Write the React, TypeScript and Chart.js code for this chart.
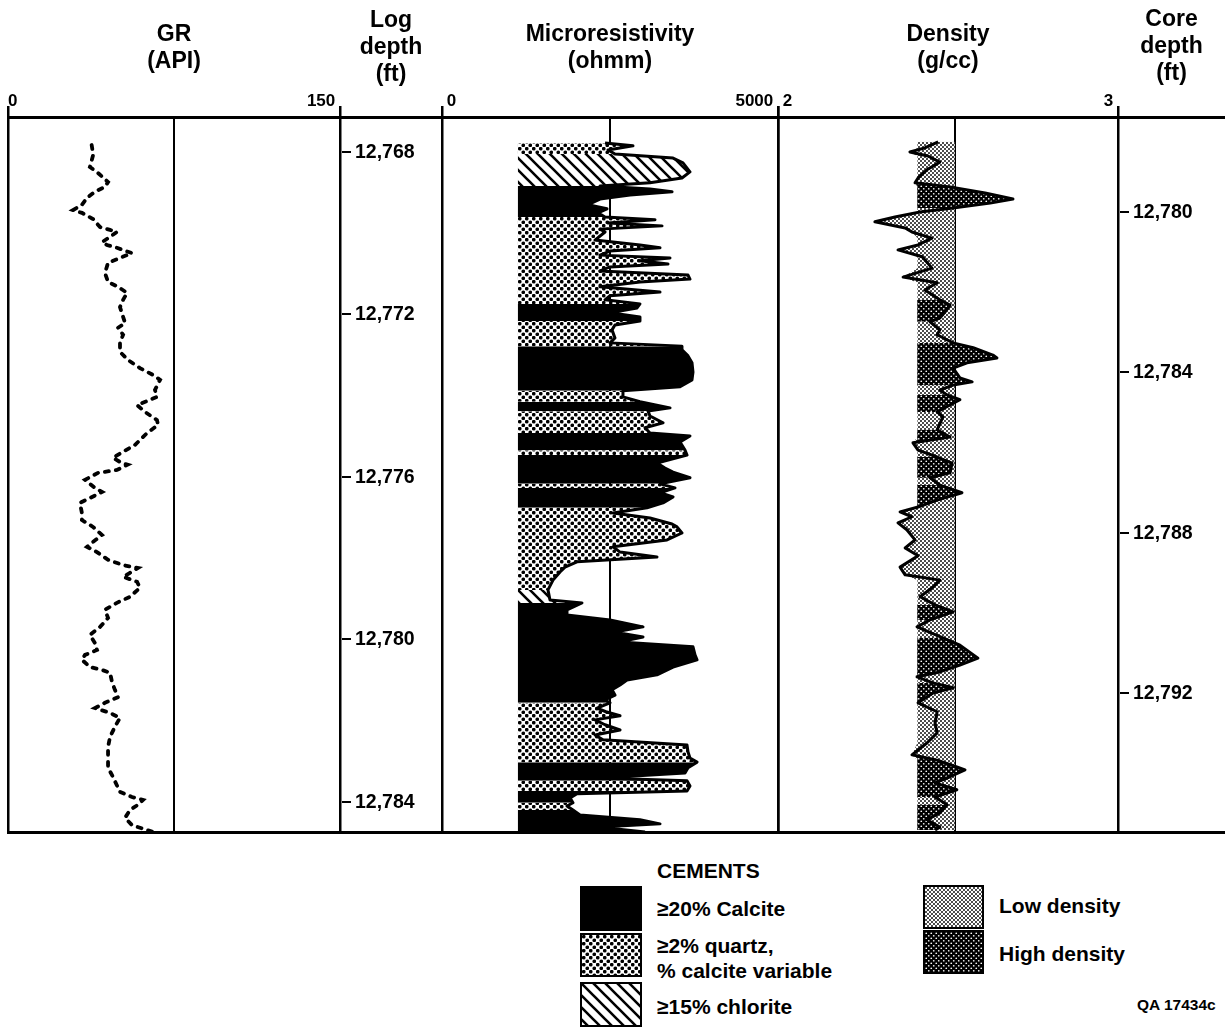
import React, { useEffect, useRef } from 'react';
import { Chart, registerables } from 'chart.js';

Chart.register(...registerables);

const FONT = '"Liberation Sans", Arial, Helvetica, sans-serif';

// ---------- depth scales ----------
const LOG_DEPTH_RANGE = [12767.14, 12784.74];
const CORE_DEPTH_RANGE = [12777.63, 12795.47];
const LOG_DEPTH_TICKS = [12768, 12772, 12776, 12780, 12784];
const CORE_DEPTH_TICKS = [12780, 12784, 12788, 12792];

// ---------- track scales ----------
const GR_RANGE = [0, 150];
const GR_GRID = 75;
const GR_TICK_LABELS = ['0', '150'];
const RES_RANGE = [0, 5000];
const RES_GRID = 2500;
const RES_TICK_LABELS = ['0', '5000'];
const RES_BASE = 1130;
const DEN_RANGE = [2, 3];
const DEN_BAND_RIGHT = 2.52;
const DEN_BAND_LEFT = 2.41;
const DEN_TICK_LABELS = ['2', '3'];

// ---------- GR (API) ----------
const GR_DEPTH = [
  12767.83, 12768.07, 12768.37, 12768.52, 12768.74, 12768.86, 12768.98, 12769.13, 12769.30, 12769.43,
  12769.50, 12769.65, 12769.85, 12769.92, 12769.97, 12770.09, 12770.22, 12770.29, 12770.36, 12770.49,
  12770.61, 12770.73, 12770.98, 12771.20, 12771.32, 12771.47, 12771.64, 12771.82, 12772.06, 12772.21,
  12772.33, 12772.50, 12772.70, 12772.92, 12773.12, 12773.32, 12773.49, 12773.61, 12773.86, 12774.03,
  12774.23, 12774.40, 12774.60, 12774.72, 12774.92, 12775.21, 12775.38, 12775.53, 12775.66, 12775.70,
  12775.83, 12775.90, 12776.07, 12776.27, 12776.37, 12776.52, 12776.64, 12776.89, 12777.06, 12777.23,
  12777.43, 12777.60, 12777.72, 12777.85, 12778.04, 12778.17, 12778.24, 12778.36, 12778.46, 12778.58,
  12778.73, 12778.95, 12779.10, 12779.27, 12779.47, 12779.69, 12779.89, 12780.09, 12780.26, 12780.38,
  12780.50, 12780.68, 12780.75, 12780.82, 12781.05, 12781.24, 12781.42, 12781.56, 12781.69, 12781.81,
  12781.93, 12782.15, 12782.40, 12782.65, 12782.89, 12783.16, 12783.34, 12783.75, 12783.88, 12783.95,
  12784.07, 12784.20, 12784.39, 12784.57, 12784.66, 12784.74,
];
const GR_API = [
  37.8, 38.5, 37.0, 40.7, 45.2, 43.8, 39.3, 35.7, 33.4, 29.4,
  33.4, 38.4, 41.6, 46.1, 49.2, 46.1, 42.5, 44.7, 49.2, 56.0,
  50.6, 45.2, 43.8, 45.2, 49.7, 53.8, 52.0, 50.6, 52.0, 52.9,
  49.7, 52.0, 50.6, 50.6, 54.2, 59.6, 65.5, 68.7, 66.4, 67.3,
  58.3, 61.9, 67.3, 67.8, 62.8, 57.4, 52.0, 47.4, 51.5, 54.0,
  49.2, 40.7, 34.8, 39.3, 42.5, 37.0, 32.5, 33.4, 33.4, 38.4,
  42.5, 38.4, 35.7, 40.2, 45.2, 52.0, 58.7, 55.1, 52.0, 58.3,
  59.6, 55.1, 49.2, 43.8, 45.2, 41.6, 37.0, 39.3, 40.2, 34.8,
  33.4, 37.0, 42.5, 46.1, 47.0, 48.3, 49.7, 43.8, 39.3, 46.1,
  50.6, 48.3, 46.1, 45.2, 45.2, 45.2, 47.0, 50.6, 56.0, 61.0,
  58.7, 55.1, 52.9, 56.0, 61.0, 65.5,
];

// ---------- Microresistivity (ohmm) ----------
const RES_DEPTH = [
  12767.78, 12767.85, 12767.95, 12768.05, 12768.15, 12768.27, 12768.49, 12768.64, 12768.76, 12768.84,
  12768.91, 12768.98, 12769.06, 12769.16, 12769.30, 12769.40, 12769.50, 12769.60, 12769.67, 12769.75,
  12769.82, 12769.90, 12769.97, 12770.17, 12770.29, 12770.36, 12770.44, 12770.54, 12770.61, 12770.68,
  12770.76, 12770.83, 12770.93, 12771.03, 12771.13, 12771.20, 12771.32, 12771.45, 12771.54, 12771.64,
  12771.74, 12771.84, 12771.96, 12772.06, 12772.16, 12772.26, 12772.38, 12772.58, 12772.70, 12772.78,
  12772.87, 12773.02, 12773.19, 12773.42, 12773.61, 12773.78, 12773.88, 12774.03, 12774.15, 12774.30,
  12774.38, 12774.50, 12774.67, 12774.79, 12774.92, 12774.99, 12775.14, 12775.34, 12775.46, 12775.66,
  12775.78, 12775.88, 12776.02, 12776.17, 12776.27, 12776.39, 12776.49, 12776.64, 12776.76, 12776.89,
  12777.01, 12777.16, 12777.23, 12777.38, 12777.55, 12777.72, 12777.85, 12777.97, 12778.09, 12778.22,
  12778.34, 12778.54, 12778.78, 12779.03, 12779.10, 12779.27, 12779.40, 12779.52, 12779.69, 12779.82,
  12779.94, 12780.06, 12780.18, 12780.38, 12780.50, 12780.68, 12780.87, 12781.00, 12781.12, 12781.24,
  12781.37, 12781.49, 12781.56, 12781.69, 12781.78, 12781.88, 12781.98, 12782.10, 12782.23, 12782.35,
  12782.47, 12782.60, 12782.77, 12782.92, 12783.02, 12783.16, 12783.29, 12783.41, 12783.48, 12783.61,
  12783.73, 12783.80, 12783.90, 12784.02, 12784.10, 12784.20, 12784.32, 12784.44, 12784.54, 12784.62,
  12784.74,
];
const RES_OHMM = [
  2426, 2842, 2470, 2574, 3438, 3586, 3690, 3571, 3095, 2351,
  3095, 3423, 2798, 2351, 2173, 2455, 2321, 2426, 3170, 2470,
  3274, 2351, 2426, 2277, 2946, 3244, 2500, 2351, 3393, 2946,
  3363, 2500, 2351, 3661, 3690, 2946, 2351, 3244, 2500, 2426,
  2946, 2902, 2500, 2946, 2946, 2574, 2530, 2574, 2500, 3571,
  3571, 3661, 3720, 3735, 3720, 3542, 2693, 2693, 2946, 3393,
  3066, 3095, 3289, 3021, 3095, 3690, 3542, 3616, 3646, 3199,
  3318, 3438, 3690, 3244, 3467, 3244, 3438, 3289, 3051, 2545,
  3095, 3423, 3497, 3571, 3348, 2545, 2649, 3199, 2009, 1830,
  1756, 1652, 1577, 1607, 2083, 1860, 1860, 2500, 2991, 2574,
  2991, 2649, 3735, 3765, 3795, 3438, 3199, 2753, 2649, 2530,
  2574, 2426, 2500, 2307, 2440, 2649, 2277, 2426, 2649, 2277,
  2396, 3646, 3661, 3690, 3795, 3661, 3616, 2351, 3646, 3690,
  3646, 2009, 1905, 1949, 1860, 1949, 2054, 2946, 3244, 2351,
  3021,
];

// cement intervals: zone i spans CEMENT_BOUNDS[i] .. CEMENT_BOUNDS[i+1]
const CEMENT_BOUNDS = [
  12767.78, 12768.05, 12768.84, 12769.60, 12771.74, 12772.16, 12772.78, 12773.88, 12774.15, 12774.38,
  12774.92, 12775.34, 12775.46, 12776.17, 12776.27, 12776.76, 12778.78, 12779.10, 12781.56, 12783.02,
  12783.48, 12783.73, 12784.02, 12784.20, 12784.74,
];
const CEMENT_TYPE = [
  'quartz', 'chlorite', 'calcite', 'quartz', 'calcite', 'quartz', 'calcite', 'quartz', 'calcite', 'quartz',
  'calcite', 'quartz', 'calcite', 'quartz', 'calcite', 'quartz', 'chlorite', 'calcite', 'quartz', 'calcite',
  'quartz', 'calcite', 'quartz', 'calcite',
];

// ---------- Density (g/cc) ----------
const DEN_DEPTH = [
  12767.75, 12767.90, 12768.00, 12768.10, 12768.25, 12768.44, 12768.64, 12768.76, 12768.86, 12769.01,
  12769.16, 12769.26, 12769.38, 12769.48, 12769.60, 12769.72, 12769.87, 12769.97, 12770.12, 12770.29,
  12770.41, 12770.58, 12770.86, 12771.08, 12771.22, 12771.40, 12771.64, 12771.77, 12771.94, 12772.09,
  12772.18, 12772.38, 12772.50, 12772.70, 12772.82, 12773.00, 12773.07, 12773.19, 12773.32, 12773.56,
  12773.66, 12773.74, 12773.86, 12773.98, 12774.10, 12774.23, 12774.40, 12774.52, 12774.84, 12775.02,
  12775.16, 12775.34, 12775.51, 12775.66, 12775.90, 12776.02, 12776.20, 12776.39, 12776.57, 12776.74,
  12776.86, 12776.98, 12777.13, 12777.30, 12777.55, 12777.75, 12777.94, 12778.22, 12778.41, 12778.54,
  12778.71, 12778.95, 12779.15, 12779.32, 12779.52, 12779.69, 12779.96, 12780.14, 12780.46, 12780.63,
  12780.80, 12780.92, 12781.07, 12781.19, 12781.32, 12781.56, 12781.78, 12782.06, 12782.30, 12782.55,
  12782.84, 12782.97, 12783.14, 12783.21, 12783.38, 12783.53, 12783.70, 12783.88, 12784.07, 12784.27,
  12784.44, 12784.62, 12784.69,
];
const DEN_GCC = [
  2.471, 2.432, 2.388, 2.441, 2.476, 2.438, 2.412, 2.403, 2.506, 2.609,
  2.691, 2.624, 2.515, 2.418, 2.344, 2.285, 2.374, 2.394, 2.453, 2.412,
  2.353, 2.424, 2.453, 2.368, 2.468, 2.432, 2.476, 2.506, 2.491, 2.476,
  2.447, 2.476, 2.468, 2.515, 2.574, 2.632, 2.644, 2.556, 2.515, 2.535,
  2.571, 2.515, 2.476, 2.497, 2.535, 2.506, 2.468, 2.485, 2.468, 2.506,
  2.397, 2.412, 2.468, 2.512, 2.506, 2.447, 2.476, 2.541, 2.468, 2.412,
  2.359, 2.394, 2.353, 2.379, 2.403, 2.374, 2.412, 2.359, 2.374, 2.476,
  2.456, 2.418, 2.462, 2.515, 2.447, 2.409, 2.485, 2.535, 2.588, 2.535,
  2.476, 2.409, 2.456, 2.515, 2.456, 2.412, 2.468, 2.462, 2.468, 2.438,
  2.394, 2.468, 2.526, 2.550, 2.506, 2.462, 2.526, 2.462, 2.497, 2.476,
  2.438, 2.476, 2.462,
];
const DEN_HIGH_TOP = [12768.76, 12771.64, 12772.58, 12773.96, 12774.72, 12775.38, 12776.12, 12778.98, 12779.72, 12780.95, 12782.84, 12784.07];
const DEN_HIGH_BASE = [12769.45, 12772.23, 12773.76, 12774.40, 12775.16, 12776.02, 12776.74, 12779.67, 12780.92, 12781.56, 12783.95, 12784.69];

// ---------- patterns ----------
function makePattern(kind: string): any {
  if (kind === 'calcite') return '#000';
  const c = document.createElement('canvas');
  const g = c.getContext('2d') as CanvasRenderingContext2D;
  const dot = (x: number, y: number, r: number) => {
    g.beginPath();
    g.arc(x, y, r, 0, Math.PI * 2);
    g.fill();
  };
  if (kind === 'quartz') {
    c.width = 7; c.height = 7;
    g.fillStyle = '#fff'; g.fillRect(0, 0, 7, 7);
    g.fillStyle = '#000';
    dot(1.75, 1.75, 1.85); dot(5.25, 5.25, 1.85);
    dot(-1.75, 8.75, 1.85); dot(8.75, -1.75, 1.85);
  } else if (kind === 'chlorite') {
    c.width = 12; c.height = 12;
    g.fillStyle = '#fff'; g.fillRect(0, 0, 12, 12);
    g.strokeStyle = '#000'; g.lineWidth = 2.6;
    g.beginPath();
    for (let k = -1; k <= 1; k++) {
      g.moveTo(-2, -2 + 12 * k);
      g.lineTo(14, 14 + 12 * k);
    }
    g.stroke();
  } else if (kind === 'low') {
    c.width = 4; c.height = 4;
    g.fillStyle = '#fff'; g.fillRect(0, 0, 4, 4);
    g.fillStyle = '#000';
    dot(1, 1, 0.95); dot(3, 3, 0.95);
  } else if (kind === 'high') {
    c.width = 5; c.height = 5;
    g.fillStyle = '#000'; g.fillRect(0, 0, 5, 5);
    g.fillStyle = '#fff';
    dot(1.25, 1.25, 0.85); dot(3.75, 3.75, 0.85);
  }
  return g.createPattern(c, 'repeat');
}

// ---------- depth-axis labels drawn inside the depth tracks ----------
const depthAxesPlugin = {
  id: 'depthAxes',
  afterDraw(chart: any) {
    const ctx = chart.ctx as CanvasRenderingContext2D;
    const axes = [
      { y: 'y', x: 'xdepth', ticks: LOG_DEPTH_TICKS },
      { y: 'ycore', x: 'xcore', ticks: CORE_DEPTH_TICKS },
    ];
    ctx.save();
    ctx.strokeStyle = '#000';
    ctx.fillStyle = '#000';
    ctx.lineWidth = 2;
    ctx.font = `bold 19.5px ${FONT}`;
    ctx.textAlign = 'left';
    ctx.textBaseline = 'middle';
    for (const a of axes) {
      const ys = chart.scales[a.y];
      const x0 = chart.scales[a.x].left;
      for (const t of a.ticks) {
        const py = Math.round(ys.getPixelForValue(t));
        ctx.beginPath();
        ctx.moveTo(x0 + 2, py);
        ctx.lineTo(x0 + 11, py);
        ctx.stroke();
        ctx.fillText(t.toLocaleString('en-US'), x0 + 15, py + 1);
      }
    }
    ctx.restore();
  },
};

const TITLE_FONT = { family: FONT, size: 23, weight: 'bold' as const, lineHeight: '27px' };
const TICK_FONT = { family: FONT, size: 17, weight: 'bold' as const };

function trackAxis(
  range: number[], grid: number, labels: string[], title: string[],
  stackWeight: number, weight: number, padTop: number, lead: string
) {
  return {
    type: 'linear' as const,
    axis: 'x' as const,
    position: 'top' as const,
    stack: 'tracks',
    stackWeight,
    weight,
    min: range[0],
    max: range[1],
    afterBuildTicks: (s: any) => {
      s.ticks = [range[0], grid, range[1]].map((v) => ({ value: v }));
    },
    afterFit: (s: any) => { s.height = 117; },
    ticks: {
      align: 'inner' as const,
      padding: -6,
      maxRotation: 0,
      autoSkip: false,
      color: '#000',
      font: TICK_FONT,
      callback: (_v: any, i: number, ticks: any[]) =>
        i === 0 ? lead + labels[0] : i === ticks.length - 1 ? labels[1] + ' ' : '',
    },
    grid: {
      color: '#000',
      lineWidth: (c: any) => (c.tick && c.tick.value === grid ? 2 : 2.5),
      tickLength: 11,
      tickWidth: 2.5,
      tickColor: (c: any) => (c.tick && c.tick.value === grid ? 'rgba(0,0,0,0)' : '#000'),
    },
    border: { display: true, color: '#000', width: 3 },
    title: { display: true, text: title, color: '#000', font: TITLE_FONT, padding: { top: padTop, bottom: 0 } },
  };
}

function blankAxis(title: string[], stackWeight: number, weight: number, padTop: number) {
  return {
    type: 'linear' as const,
    axis: 'x' as const,
    position: 'top' as const,
    stack: 'tracks',
    stackWeight,
    weight,
    min: 0,
    max: 1,
    afterFit: (s: any) => { s.height = 117; },
    ticks: { display: false },
    grid: { display: false, drawTicks: false },
    border: { display: true, color: '#000', width: 3 },
    title: { display: true, text: title, color: '#000', font: TITLE_FONT, padding: { top: padTop, bottom: 0 } },
  };
}

function Swatch({ kind, left, top, w, h }: { kind: string; left: number; top: number; w: number; h: number }) {
  const ref = useRef<HTMLCanvasElement>(null);
  useEffect(() => {
    const c = ref.current;
    if (!c) return;
    const g = c.getContext('2d') as CanvasRenderingContext2D;
    g.fillStyle = makePattern(kind);
    g.fillRect(0, 0, w, h);
  }, [kind, w, h]);
  return (
    <canvas
      ref={ref}
      width={w}
      height={h}
      style={{ position: 'absolute', left, top, width: w, height: h, border: '2px solid #000' }}
    />
  );
}

function Label({ text, left, cy, size = 21 }: { text: string; left: number; cy: number; size?: number }) {
  return (
    <div
      style={{
        position: 'absolute', left, top: cy - size * 0.6, height: size * 1.2, lineHeight: `${size * 1.2}px`,
        fontFamily: FONT, fontWeight: 'bold', fontSize: size, color: '#000', whiteSpace: 'nowrap',
      }}
    >
      {text}
    </div>
  );
}

export default function App() {
  const canvasRef = useRef<HTMLCanvasElement>(null);

  useEffect(() => {
    const canvas = canvasRef.current;
    if (!canvas) return;
    const P: Record<string, any> = {
      calcite: makePattern('calcite'),
      quartz: makePattern('quartz'),
      chlorite: makePattern('chlorite'),
      low: makePattern('low'),
      high: makePattern('high'),
    };
    const base = { indexAxis: 'y' as const, pointRadius: 0, pointHoverRadius: 0, tension: 0, yAxisID: 'y' };
    const datasets: any[] = [];

    // GR curve (dashed)
    datasets.push({
      ...base, label: 'GR', xAxisID: 'xgr',
      data: GR_DEPTH.map((d, i) => ({ x: GR_API[i], y: d })),
      borderColor: '#000', borderWidth: 3.8, borderDash: [4, 7], borderCapStyle: 'round',
      fill: false, order: 3,
    });

    // Microresistivity cement fills
    const resPts = RES_DEPTH.map((d, i) => ({ x: RES_OHMM[i], y: d }));
    for (let z = 0; z < CEMENT_TYPE.length; z++) {
      const top = CEMENT_BOUNDS[z];
      const bot = CEMENT_BOUNDS[z + 1];
      datasets.push({
        ...base, label: CEMENT_TYPE[z], xAxisID: 'xres',
        data: resPts.filter((p) => p.y >= top - 1e-6 && p.y <= bot + 1e-6),
        borderColor: 'rgba(0,0,0,0)', borderWidth: 0,
        backgroundColor: P[CEMENT_TYPE[z]], fill: { value: RES_BASE }, order: 30,
      });
    }
    datasets.push({
      ...base, label: 'Microresistivity', xAxisID: 'xres', data: resPts,
      borderColor: '#000', borderWidth: 3, borderJoinStyle: 'round', fill: false, order: 2,
    });

    // Density: low-density band
    datasets.push({
      ...base, label: 'Low density', xAxisID: 'xden',
      data: DEN_DEPTH.map((d, i) => ({ x: Math.min(DEN_GCC[i], DEN_BAND_LEFT), y: d })),
      borderColor: 'rgba(0,0,0,0)', borderWidth: 0,
      backgroundColor: P.low, fill: { value: DEN_BAND_RIGHT }, order: 50,
    });
    // Density: high-density intervals
    for (let k = 0; k < DEN_HIGH_TOP.length; k++) {
      const pts = DEN_DEPTH.map((d, i) => ({ x: Math.max(DEN_GCC[i], DEN_BAND_LEFT), y: d }))
        .filter((p) => p.y >= DEN_HIGH_TOP[k] && p.y <= DEN_HIGH_BASE[k]);
      datasets.push({
        ...base, label: 'High density', xAxisID: 'xden', data: pts,
        borderColor: 'rgba(0,0,0,0)', borderWidth: 0,
        backgroundColor: P.high, fill: { value: DEN_BAND_LEFT }, order: 40,
      });
    }
    datasets.push({
      ...base, label: 'Density', xAxisID: 'xden',
      data: DEN_DEPTH.map((d, i) => ({ x: DEN_GCC[i], y: d })),
      borderColor: '#000', borderWidth: 3, borderJoinStyle: 'round', fill: false, order: 1,
    });

    const chart = new Chart(canvas, {
      type: 'line',
      data: { datasets },
      options: {
        animation: false,
        responsive: false,
        maintainAspectRatio: false,
        indexAxis: 'y',
        events: [],
        layout: { padding: { left: 8, right: 0, top: 0, bottom: 8 } },
        plugins: { legend: { display: false }, tooltip: { enabled: false } },
        scales: {
          xgr: trackAxis(GR_RANGE, GR_GRID, GR_TICK_LABELS, ['GR', '(API)'], 332, 5, 21.5, ''),
          xdepth: blankAxis(['Log', 'depth', '(ft)'], 102, 4, 7.5),
          xres: trackAxis(RES_RANGE, RES_GRID, RES_TICK_LABELS, ['Microresistivity', '(ohmm)'], 336, 3, 21.5, ' '),
          xden: trackAxis(DEN_RANGE, DEN_BAND_RIGHT, DEN_TICK_LABELS, ['Density', '(g/cc)'], 340, 2, 21.5, ' '),
          xcore: blankAxis(['Core', 'depth', '(ft)'], 107, 1, 6.5),
          xb: {
            type: 'linear', axis: 'x', position: 'bottom', min: 0, max: 1,
            afterFit: (s: any) => { s.height = 0; },
            ticks: { display: false }, grid: { display: false, drawTicks: false },
            border: { display: true, color: '#000', width: 3 },
          },
          y: { type: 'linear', axis: 'y', reverse: true, min: LOG_DEPTH_RANGE[0], max: LOG_DEPTH_RANGE[1], display: false },
          ycore: { type: 'linear', axis: 'y', reverse: true, min: CORE_DEPTH_RANGE[0], max: CORE_DEPTH_RANGE[1], display: false },
        } as any,
      } as any,
      plugins: [depthAxesPlugin],
    });
    return () => chart.destroy();
  }, []);

  return (
    <div style={{ position: 'absolute', left: 0, top: 0, width: 1225, height: 1028, background: '#fff' }}>
      <canvas ref={canvasRef} width={1225} height={840} style={{ position: 'absolute', left: 0, top: 0, width: 1225, height: 840 }} />
      <Label text="CEMENTS" left={657} cy={871} />
      <Swatch kind="calcite" left={580} top={886} w={58} h={41} />
      <Label text="≥20% Calcite" left={657} cy={909} />
      <Swatch kind="quartz" left={580} top={933} w={58} h={40} />
      <Label text="≥2% quartz," left={657} cy={946} />
      <Label text="% calcite variable" left={657} cy={971} />
      <Swatch kind="chlorite" left={580} top={982} w={58} h={41} />
      <Label text="≥15% chlorite" left={657} cy={1007} />
      <Swatch kind="low" left={923} top={885} w={57} h={40} />
      <Label text="Low density" left={999} cy={906} />
      <Swatch kind="high" left={923} top={930} w={57} h={40} />
      <Label text="High density" left={999} cy={954} />
      <Label text="QA 17434c" left={1137} cy={1005} size={15.5} />
    </div>
  );
}
